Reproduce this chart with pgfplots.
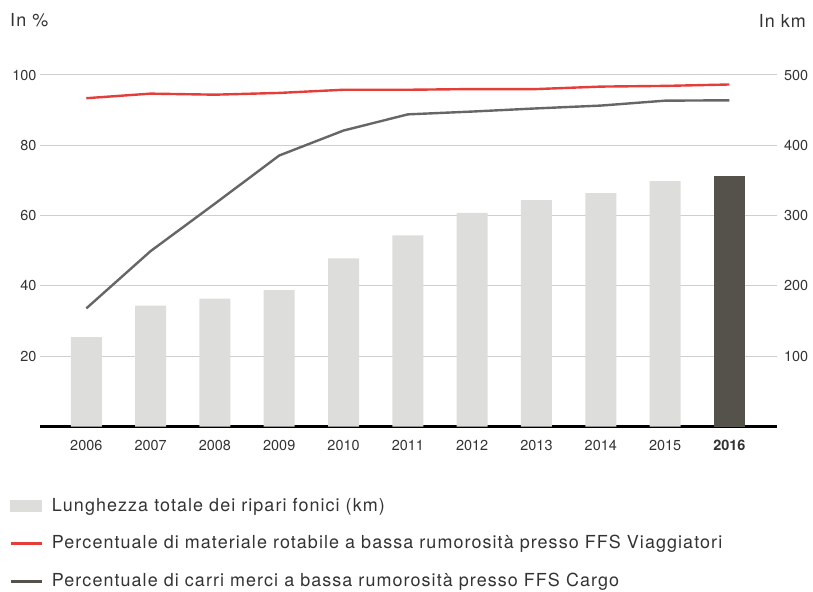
\documentclass[border=0pt]{standalone}
\usepackage{pgfplots}
\pgfplotsset{compat=1.18}
\usepackage{fontspec}
\setmainfont{TeX Gyre Heros}
\newfontfamily\legfont[LetterSpace=6]{TeX Gyre Heros}
\definecolor{barc}{HTML}{DDDDDC}
\definecolor{barhl}{HTML}{55524C}
\definecolor{redl}{HTML}{E43D3A}
\definecolor{grayl}{HTML}{666666}
\definecolor{gridc}{HTML}{CFCFCF}
\definecolor{txt}{HTML}{333333}
\begin{document}
\begin{tikzpicture}
\pgfplotsset{
  base/.style={width=737bp, height=351.5bp, scale only axis,
    xmin=2005.28, xmax=2016.74, clip=false,
    /pgf/number format/assume math mode=true,
    tick label style={font=\fontsize{14.5}{16}\selectfont, text=txt},
    major tick length=0pt, minor tick num=0}
}
\begin{axis}[base, name=km, ymin=0, ymax=500,
  axis x line*=bottom, axis y line*=right,
  y axis line style={draw=none},
  x axis line style={black, line width=2.6bp, -},
  ytick={100,200,300,400,500},
  ymajorgrids, grid style={gridc, line width=1bp},
  xtick={2006,2007,2008,2009,2010,2011,2012,2013,2014,2015,2016},
  xticklabels={2006,2007,2008,2009,2010,2011,2012,2013,2014,2015,\textbf{2016}},
  xticklabel style={yshift=-10bp},
  yticklabel style={xshift=3.5bp},
  scaled y ticks=false]
\addplot[ybar, bar width=31bp, bar shift=0pt, fill=barc, draw=none] coordinates {
  (2006,127) (2007,172) (2008,182) (2009,194) (2010,239)
  (2011,272) (2012,304) (2013,322) (2014,332) (2015,349)};
\addplot[ybar, bar width=31bp, bar shift=0pt, fill=barhl, draw=none] coordinates {
  (2016,357)};
\end{axis}
\begin{axis}[base, ymin=0, ymax=100,
  axis x line=none, axis y line*=left,
  y axis line style={draw=none},
  ytick={20,40,60,80,100},
  legend cell align=left,
  legend style={at={(axis description cs:-0.0421,-0.2034)}, anchor=north west,
    draw=none, fill=none, inner sep=0pt, row sep=21.5bp, column sep=9bp,
    font=\fontsize{18}{20}\legfont, text=txt,
    nodes={inner sep=0pt, text height=13bp, text depth=3bp}}]
\addlegendimage{legend image code/.code={\fill[barc] (0bp,-5.5bp) rectangle (31bp,5.5bp);}}
\addlegendentry{Lunghezza totale dei ripari fonici (km)}
\addplot[redl, line width=2.4bp, legend image code/.code={\draw (0bp,0bp) -- (31bp,0bp);}] coordinates {
  (2006,93.4) (2007,94.7) (2008,94.4) (2009,94.9) (2010,95.8) (2011,95.8)
  (2012,96.0) (2013,96.0) (2014,96.7) (2015,96.9) (2016,97.3)};
\addlegendentry{Percentuale di materiale rotabile a bassa rumorosità presso FFS Viaggiatori}
\addplot[grayl, line width=2.4bp, legend image code/.code={\draw[draw=barhl, line width=2.8bp] (0bp,0bp) -- (31bp,0bp);}] coordinates {
  (2006,33.6) (2007,49.9) (2008,63.4) (2009,77.1) (2010,84.2) (2011,88.8)
  (2012,89.6) (2013,90.5) (2014,91.3) (2015,92.7) (2016,92.8)};
\addlegendentry{Percentuale di carri merci a bassa rumorosità presso FFS Cargo}
\node[anchor=west, inner sep=0pt, font=\fontsize{18}{20}\legfont, text=txt] at (axis description cs:-0.0407,1.155) {In \%};
\node[anchor=east, inner sep=0pt, font=\fontsize{18}{20}\legfont, text=txt] at (axis description cs:1.0394,1.155) {In km};
\end{axis}
\pgfresetboundingbox
\path[use as bounding box] ([shift={(-40bp,-165.5bp)}]km.south west) rectangle ([shift={(36bp,75bp)}]km.north east);
\end{tikzpicture}
\end{document}
